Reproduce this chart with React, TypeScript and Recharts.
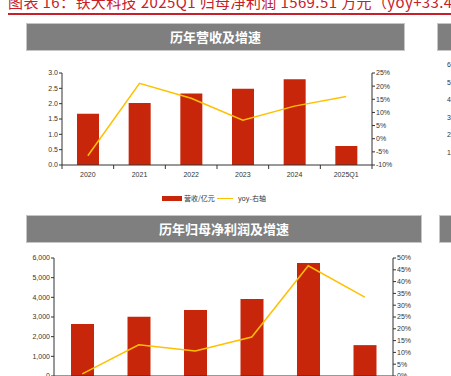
import React from "react";
import { ComposedChart, Bar, Line, XAxis, YAxis } from "recharts";

// Categories and values
const YEARS = ["2020", "2021", "2022", "2023", "2024", "2025Q1"];
const REVENUE = [1.67, 2.02, 2.33, 2.49, 2.8, 0.62]; // 营收 / 亿元
const REVENUE_YOY = [-6.5, 21.1, 15.4, 7.0, 12.4, 16.1]; // %
const PROFIT = [2650, 3010, 3350, 3910, 5745, 1570]; // 归母净利润 / 万元
const PROFIT_YOY = [0.9, 13.2, 10.6, 16.5, 46.7, 33.4]; // %

const REV_TICKS = [0, 0.5, 1, 1.5, 2, 2.5, 3];
const REV_YOY_TICKS = [-10, -5, 0, 5, 10, 15, 20, 25];
const PROFIT_TICKS = [0, 1000, 2000, 3000, 4000, 5000, 6000];
const PROFIT_YOY_TICKS = [0, 5, 10, 15, 20, 25, 30, 35, 40, 45, 50];
// tick labels of the neighbouring (cut-off) chart on the right edge
const NEIGHBOR_TICKS = ["6,000", "5,000", "4,000", "3,000", "2,000", "1,000"];

const TITLE = "图表 16：铁大科技 2025Q1 归母净利润 1569.51 万元（yoy+33.44%）";

const RED = "#c8260a";
const GOLD = "#ffc000";
const AXIS = "#333333";
const CJK = '"Noto Sans CJK SC", "Noto Sans", sans-serif';
const LATIN = '"Liberation Sans", Arial, sans-serif';

const revenueData = YEARS.map((year, i) => ({ year, value: REVENUE[i], yoy: REVENUE_YOY[i] }));
const profitData = YEARS.map((year, i) => ({ year, value: PROFIT[i], yoy: PROFIT_YOY[i] }));

// x tick: label at the category centre, small tick mark at the band edges
const XTick = (props: any) => {
  const { x, y, payload, index, band, count } = props;
  const left = x - band / 2;
  return (
    <g>
      <line x1={left} x2={left} y1={y} y2={y + 4} stroke={AXIS} />
      {index === count - 1 && <line x1={x + band / 2} x2={x + band / 2} y1={y} y2={y + 4} stroke={AXIS} />}
      <text x={x} y={y + 11.5} textAnchor="middle" fontSize={7} fill={AXIS} fontFamily={LATIN}>
        {payload.value}
      </text>
    </g>
  );
};

const Header = ({ left, top, width, height, text }: { left: number; top: number; width: number; height: number; text?: string }) => (
  <div
    style={{
      position: "absolute",
      left,
      top,
      width,
      height,
      boxSizing: "border-box",
      background: "#7f7f7f",
      border: "1px solid #c6c6c6",
      color: "#fff",
      fontFamily: CJK,
      fontWeight: 700,
      fontSize: 13,
      lineHeight: `${height - 2}px`,
      textAlign: "center",
      whiteSpace: "nowrap",
    }}
  >
    {text}
  </div>
);

const TOP_W = 412;
const TOP_LEFT_AXIS = 62;
const RIGHT_AXIS = 40;
const TOP_BAND = (TOP_W - TOP_LEFT_AXIS - RIGHT_AXIS) / YEARS.length;

const BOT_W = 433;
const BOT_LEFT_AXIS = 54;
const BOT_BAND = (BOT_W - BOT_LEFT_AXIS - RIGHT_AXIS) / YEARS.length;

export default function App() {
  return (
    <div
      style={{
        position: "fixed",
        left: 0,
        top: 0,
        width: 451,
        height: 376,
        overflow: "hidden",
        background: "#fff",
        fontFamily: LATIN,
      }}
    >
      {/* title */}
      <div
        style={{
          position: "absolute",
          left: 8,
          top: -6,
          fontFamily: CJK,
          fontSize: 15,
          letterSpacing: 0.4,
          lineHeight: "16px",
          color: "#c8202a",
          whiteSpace: "nowrap",
        }}
      >
        {TITLE}
      </div>
      <div style={{ position: "absolute", left: 8, top: 13, width: 443, height: 1.5, background: "#c8202a" }} />

      <Header left={26} top={23} width={379} height={28} text="历年营收及增速" />
      <Header left={437} top={23} width={30} height={28} />

      {NEIGHBOR_TICKS.map((t, i) => (
        <div
          key={t}
          style={{ position: "absolute", left: 447, top: 61 + i * 17.5, fontSize: 7, lineHeight: "8px", color: AXIS }}
        >
          {t}
        </div>
      ))}

      <div style={{ position: "absolute", left: 0, top: 60 }}>
        <ComposedChart width={TOP_W} height={125} data={revenueData} margin={{ top: 13, right: 0, bottom: 0, left: 0 }}>
          <XAxis
            dataKey="year"
            height={20}
            axisLine={{ stroke: AXIS }}
            tickLine={false}
            tickSize={0}
            tickMargin={0}
            interval={0}
            tick={(p: any) => <XTick {...p} band={TOP_BAND} count={YEARS.length} />}
          />
          <YAxis
            yAxisId="left"
            width={TOP_LEFT_AXIS}
            domain={[0, 3]}
            ticks={REV_TICKS}
            interval={0}
            tickFormatter={(v: number) => v.toFixed(1)}
            tick={{ fontSize: 7, fill: AXIS }}
            axisLine={{ stroke: AXIS }}
            tickLine={{ stroke: AXIS }}
            tickSize={3}
            tickMargin={1}
          />
          <YAxis
            yAxisId="right"
            orientation="right"
            width={RIGHT_AXIS}
            domain={[-10, 25]}
            ticks={REV_YOY_TICKS}
            interval={0}
            tickFormatter={(v: number) => `${v}%`}
            tick={{ fontSize: 7, fill: AXIS }}
            axisLine={{ stroke: AXIS }}
            tickLine={{ stroke: AXIS }}
            tickSize={3}
            tickMargin={1}
          />
          <Bar yAxisId="left" dataKey="value" fill={RED} barSize={22} isAnimationActive={false} />
          <Line yAxisId="right" dataKey="yoy" type="linear" stroke={GOLD} strokeWidth={1.5} dot={false} isAnimationActive={false} />
        </ComposedChart>
      </div>

      {/* legend */}
      <div style={{ position: "absolute", left: 162, top: 196, width: 20, height: 5, background: RED }} />
      <div style={{ position: "absolute", left: 184, top: 194, fontFamily: CJK, fontSize: 7, lineHeight: "8px", color: AXIS }}>
        营收/亿元
      </div>
      <div style={{ position: "absolute", left: 217, top: 198, width: 16, height: 1, background: GOLD }} />
      <div style={{ position: "absolute", left: 238, top: 194, fontFamily: CJK, fontSize: 7, lineHeight: "8px", color: AXIS }}>
        yoy-右轴
      </div>

      <Header left={26} top={215} width={396} height={28} text="历年归母净利润及增速" />
      <Header left={439} top={215} width={30} height={28} />

      <div style={{ position: "absolute", left: 0, top: 245 }}>
        <ComposedChart width={BOT_W} height={151} data={profitData} margin={{ top: 13, right: 0, bottom: 0, left: 0 }}>
          <XAxis
            dataKey="year"
            height={20}
            axisLine={{ stroke: AXIS }}
            tickLine={false}
            tickSize={0}
            tickMargin={0}
            interval={0}
            tick={(p: any) => <XTick {...p} band={BOT_BAND} count={YEARS.length} />}
          />
          <YAxis
            yAxisId="left"
            width={BOT_LEFT_AXIS}
            domain={[0, 6000]}
            ticks={PROFIT_TICKS}
            interval={0}
            tickFormatter={(v: number) => v.toLocaleString("en-US")}
            tick={{ fontSize: 7, fill: AXIS }}
            axisLine={{ stroke: AXIS }}
            tickLine={{ stroke: AXIS }}
            tickSize={3}
            tickMargin={1}
          />
          <YAxis
            yAxisId="right"
            orientation="right"
            width={RIGHT_AXIS}
            domain={[0, 50]}
            ticks={PROFIT_YOY_TICKS}
            interval={0}
            tickFormatter={(v: number) => `${v}%`}
            tick={{ fontSize: 7, fill: AXIS }}
            axisLine={{ stroke: AXIS }}
            tickLine={{ stroke: AXIS }}
            tickSize={3}
            tickMargin={1}
          />
          <Bar yAxisId="left" dataKey="value" fill={RED} barSize={23} isAnimationActive={false} />
          <Line yAxisId="right" dataKey="yoy" type="linear" stroke={GOLD} strokeWidth={1.5} dot={false} isAnimationActive={false} />
        </ComposedChart>
      </div>
    </div>
  );
}
